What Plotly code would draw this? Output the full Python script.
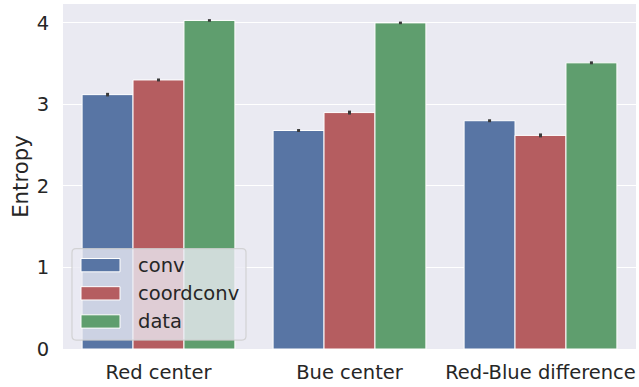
import plotly.graph_objects as go

# Mean entropy per condition, with a small confidence interval for each bar
categories = ["Red center", "Bue center", "Red-Blue difference"]
series_names = ["conv", "coordconv", "data"]
conv_vals = [3.12, 2.68, 2.80]
coordconv_vals = [3.30, 2.90, 2.62]
data_vals = [4.03, 4.00, 3.51]
conv_err = [0.022, 0.018, 0.018]
coordconv_err = [0.018, 0.024, 0.024]
data_err = [0.016, 0.016, 0.018]
y_ticks = [0, 1, 2, 3, 4]

colors = ["#5875a4", "#b55d60", "#5f9e6e"]
values = [conv_vals, coordconv_vals, data_vals]
errors = [conv_err, coordconv_err, data_err]

W, H = 639, 387
ML, MR, MT, MB = 63, 3, 4, 36
FONT = "DejaVu Sans"
TEXT = "#262626"
FS = 19.5
FS_LABEL = 21.3

fig = go.Figure()
for name, vals, errs, col in zip(series_names, values, errors, colors):
    fig.add_trace(go.Bar(
        x=categories, y=vals, name=name,
        marker=dict(color=col, line=dict(color="white", width=1)),
        error_y=dict(type="data", array=errs, visible=True,
                     color="#3a3a3a", thickness=3, width=0),
        showlegend=False,
    ))

# pixel -> paper helpers for the legend box
pw = W - ML - MR
ph = H - MT - MB


def px(x):
    return (x - ML) / pw


def py(y):
    return (H - MB - y) / ph


shapes = []
x0, x1, y0, y1, r = 72, 246, 250, 342, 4
path = (
    f"M {px(x0 + r)},{py(y0)} L {px(x1 - r)},{py(y0)} "
    f"Q {px(x1)},{py(y0)} {px(x1)},{py(y0 + r)} "
    f"L {px(x1)},{py(y1 - r)} Q {px(x1)},{py(y1)} {px(x1 - r)},{py(y1)} "
    f"L {px(x0 + r)},{py(y1)} Q {px(x0)},{py(y1)} {px(x0)},{py(y1 - r)} "
    f"L {px(x0)},{py(y0 + r)} Q {px(x0)},{py(y0)} {px(x0 + r)},{py(y0)} Z"
)
shapes.append(dict(type="path", path=path, xref="paper", yref="paper",
                   fillcolor="rgba(234,234,242,0.8)",
                   line=dict(color="rgba(204,204,204,0.8)", width=1.2),
                   layer="above"))
annotations = []
for i, (name, col) in enumerate(zip(series_names, colors)):
    cy = 266.7 + i * 28.3
    shapes.append(dict(type="rect", xref="paper", yref="paper",
                       x0=px(81), x1=px(120), y0=py(cy - 6.7), y1=py(cy + 6.7),
                       fillcolor=col, line=dict(color="white", width=1),
                       layer="above"))
    annotations.append(dict(x=px(136), y=py(cy), xref="paper", yref="paper",
                            text=name, showarrow=False, xanchor="left",
                            yanchor="middle",
                            font=dict(family=FONT, size=FS, color=TEXT)))

fig.update_layout(
    width=W, height=H,
    margin=dict(l=ML, r=MR, t=MT, b=MB),
    paper_bgcolor="white", plot_bgcolor="#eaeaf2",
    barmode="group", bargap=0.2, bargroupgap=0,
    font=dict(family=FONT, size=FS, color=TEXT),
    shapes=shapes, annotations=annotations,
    xaxis=dict(showgrid=False, zeroline=False, showline=False,
               ticks="outside", ticklen=6, tickcolor="rgba(0,0,0,0)",
               tickfont=dict(family=FONT, size=FS, color=TEXT)),
    yaxis=dict(range=[0, ph / 82.0], tickvals=y_ticks,
               showgrid=True, gridcolor="white", gridwidth=1.3,
               zeroline=False, showline=False,
               ticks="outside", ticklen=9, tickcolor="rgba(0,0,0,0)",
               tickfont=dict(family=FONT, size=FS, color=TEXT),
               title=dict(text="Entropy", standoff=2,
                          font=dict(family=FONT, size=FS_LABEL, color=TEXT))),
)

fig.write_html("out.html")
